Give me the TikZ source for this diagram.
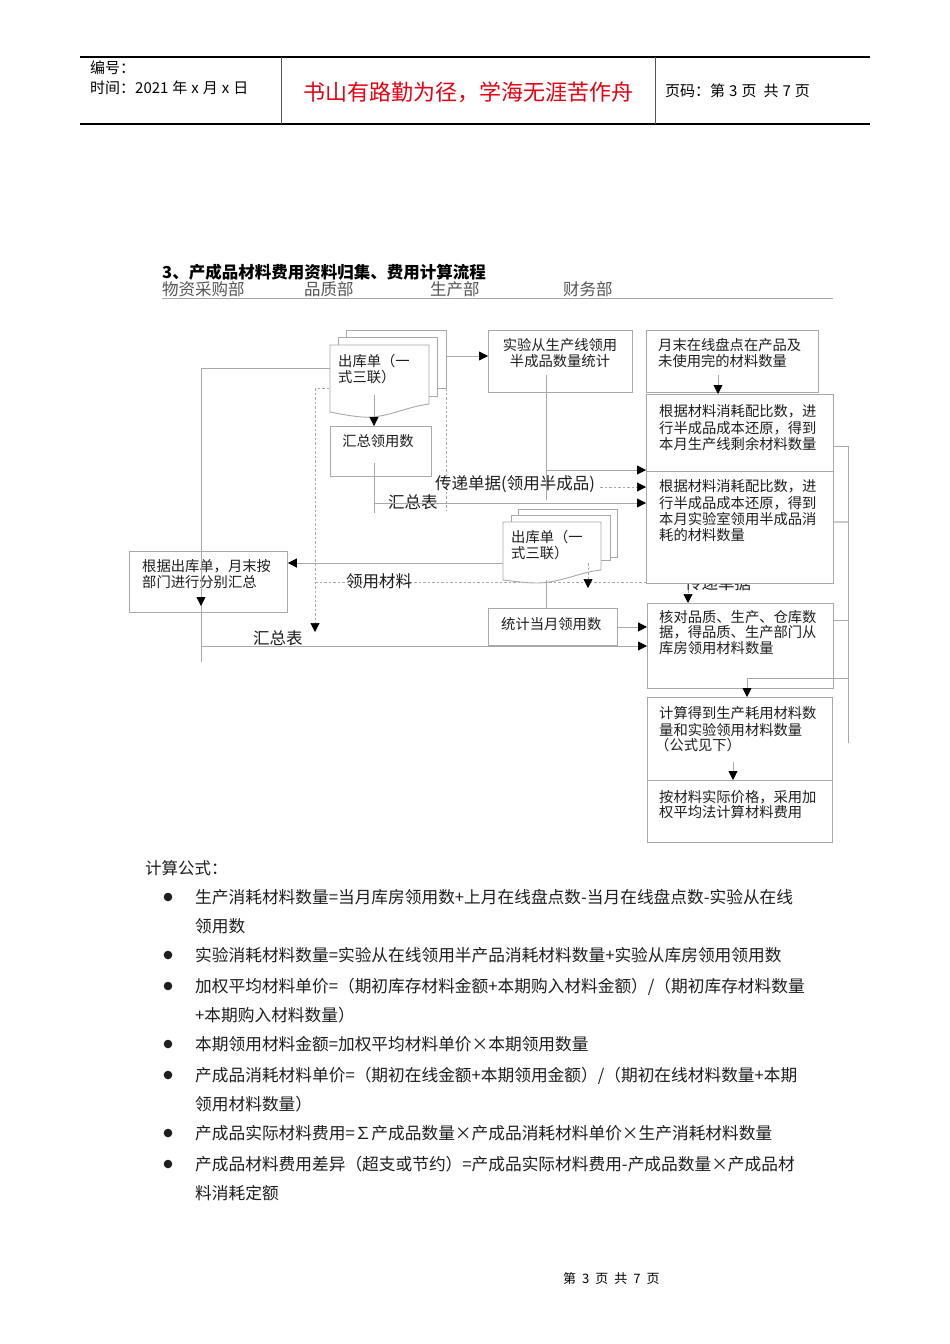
\documentclass[tikz,border=0pt]{standalone}
\usepackage{fontspec}
\setmainfont{Noto Sans CJK SC}
\usetikzlibrary{arrows.meta}
\definecolor{lgray}{HTML}{A8A8A8}
\definecolor{hgray}{HTML}{555555}
\definecolor{tblack}{HTML}{1E1E1E}
\definecolor{hred}{HTML}{E60012}
\newcommand\fsBox{\fontsize{14.3pt}{17pt}\selectfont}
\newcommand\fsLab{\fontsize{16.5pt}{19pt}\selectfont}
\newcommand\fsForm{\fontsize{16.7pt}{20pt}\selectfont}
\newcommand\fsHdr{\fontsize{15pt}{18pt}\selectfont}
\newcommand\gp{\hspace{4pt}}
\newcommand\gq{\hspace{7pt}}
\tikzset{
 ln/.style={draw=lgray, line width=0.8pt},
 dsh/.style={draw=lgray, line width=0.7pt, dash pattern=on 2.5pt off 2pt},
 arr/.style={-{Triangle[length=9pt,width=9pt,color=black]}},
 box/.style={draw=lgray, line width=0.9pt, fill=white, inner sep=0pt, anchor=north west},
 bt/.style={inner sep=0pt, anchor=base west, font=\fsBox, text=tblack},
 btc/.style={inner sep=0pt, anchor=base, font=\fsBox, text=tblack},
 lab/.style={inner sep=0pt, anchor=base west, font=\fsLab, text=tblack},
 ft/.style={inner sep=0pt, anchor=base west, font=\fsForm, text=tblack},
 hd/.style={inner sep=0pt, anchor=base west, font=\fsHdr, text=black},
 dept/.style={inner sep=0pt, anchor=base west, font=\fsLab, text=hgray},
 pg/.style={draw=lgray, line width=0.9pt, fill=white},
 bul/.style={fill=tblack},
}
\begin{document}
\begin{tikzpicture}[x=1pt,y=-1pt]
\useasboundingbox[fill=white] (0,0) rectangle (950,1344);

% ---------- header ----------
\draw[line width=1.2pt, black] (80,57) -- (870,57);
\draw[line width=1.2pt, black] (80,124) -- (870,124);
\draw[line width=1pt, hgray] (281,57) -- (281,124);
\draw[line width=1pt, hgray] (655,57) -- (655,124);
\node[hd] (hno) at (90,73.7) {编号：};
\node[hd] (htime) at (90,93.7) {时间：2021\gp 年\gp x\gp 月\gp x\gp 日};
\node[inner sep=0pt, anchor=base, font=\fontsize{22pt}{26pt}\selectfont, text=hred] (hmotto) at (468,100.4) {书山有路勤为径，学海无涯苦作舟};
\node[hd] (hpage) at (665,96.7) {页码：第\gp 3\gp 页\gq 共\gp 7\gp 页};

% ---------- title ----------
\node[inner sep=0pt, anchor=base west, font=\fontsize{16.5pt}{19pt}\selectfont\bfseries, text=black] (title) at (162,278) {3、产成品材料费用资料归集、费用计算流程};
\node[dept] (d1) at (162,295.5) {物资采购部};
\node[dept] (d2) at (304,295.5) {品质部};
\node[dept] (d3) at (430,295.5) {生产部};
\node[dept] (d4) at (563,295.5) {财务部};
\draw[ln] (162,298) -- (833,298);

% ---------- named points ----------
\coordinate (dq1) at (315,388);
\coordinate (dq2) at (446,388);
\coordinate (dq3) at (315,632);
\coordinate (dq4) at (446,510);
\coordinate (dl1) at (315,582);
\coordinate (dl2) at (646,582);

% ---------- dashed lines (behind) ----------
\draw[dsh] (dq2) -- (dq1);
\draw[dsh, arr] (dq1) -- (dq3);
\draw[dsh] (dq2) -- (dq4);
\draw[dsh] (dl1) -- (dl2);
\node[lab] (lbcd) at (685,589) {传递单据};

% ---------- documents 1 ----------
\draw[pg] (346,330) rectangle (446,388);
\draw[pg] (338,337) rectangle (437,396);
\draw[pg] (330,345) -- (429,345) -- (429,404) .. controls (405,407) and (385,419) .. (362,417) .. controls (350,416) and (340,414) .. (330,412) -- cycle;
\node[bt] (t1a) at (338,366.4) {出库单（一};
\node[bt] (t1b) at (338,382.4) {式三联）};
\coordinate (d1L) at (330,368);
\coordinate (d1R) at (446,356);
\coordinate (d1B) at (374,395);

% ---------- documents 2 ----------
\draw[pg] (518,509) rectangle (617,557);
\draw[pg] (511,515) rectangle (610,560);
\draw[pg] (503,522) -- (601,522) -- (601,570) .. controls (580,572) and (560,583) .. (537,583) .. controls (525,583) and (512,581) .. (503,580) -- cycle;
\node[bt] (t2a) at (511,542.4) {出库单（一};
\node[bt] (t2b) at (511,558.4) {式三联）};
\coordinate (d2L) at (503,563);
\coordinate (d2B) at (546,580);
\coordinate (d2D) at (588,563);

% ---------- boxes ----------
\node[box, minimum width=101pt, minimum height=50pt] (hz) at (330,426) {};
\node[btc] (thz) at (378,446.4) {汇总领用数};

\node[box, minimum width=144pt, minimum height=62pt] (sy) at (488,330) {};
\node[btc] (tsy1) at (560,350.4) {实验从生产线领用};
\node[btc] (tsy2) at (560,366.4) {半成品数量统计};

\node[box, minimum width=172pt, minimum height=62pt] (ym) at (646,330) {};
\node[bt] (tym1) at (658,350.4) {月末在线盘点在产品及};
\node[bt] (tym2) at (658,366.4) {未使用完的材料数量};

\node[box, minimum width=187pt, minimum height=77pt] (bA) at (646,394) {};
\node[bt] (tA1) at (659,416) {根据材料消耗配比数，进};
\node[bt] (tA2) at (659,433) {行半成品成本还原，得到};
\node[bt] (tA3) at (659,449) {本月生产线剩余材料数量};

\node[box, minimum width=187pt, minimum height=112pt] (bB) at (646,471) {};
\node[bt] (tB1) at (659,491.4) {根据材料消耗配比数，进};
\node[bt] (tB2) at (659,508.4) {行半成品成本还原，得到};
\node[bt] (tB3) at (659,524.4) {本月实验室领用半成品消};
\node[bt] (tB4) at (659,540.4) {耗的材料数量};

\node[box, minimum width=158pt, minimum height=61pt] (gj) at (129,551) {};
\node[bt] (tgj1) at (142,571.4) {根据出库单，月末按};
\node[bt] (tgj2) at (142,587.4) {部门进行分别汇总};

\node[box, minimum width=129pt, minimum height=37pt] (tj) at (488,608) {};
\node[bt] (ttj) at (501,629.4) {统计当月领用数};

\node[box, minimum width=186pt, minimum height=85pt] (hd) at (647,603) {};
\node[bt] (thd1) at (659,622.4) {核对品质、生产、仓库数};
\node[bt] (thd2) at (659,637.7) {据，得品质、生产部门从};
\node[bt] (thd3) at (659,653.7) {库房领用材料数量};

\node[box, minimum width=185pt, minimum height=83pt] (js) at (647,697) {};
\node[bt] (tjs1) at (659,718.4) {计算得到生产耗用材料数};
\node[bt] (tjs2) at (659,735.4) {量和实验领用材料数量};
\node[bt] (tjs3) at (655,750.4) {（公式见下）};

\node[box, minimum width=185pt, minimum height=62pt] (ac) at (647,780) {};
\node[bt] (tac1) at (659,802) {按材料实际价格，采用加};
\node[bt] (tac2) at (659,817) {权平均法计算材料费用};

% ---------- connector points ----------
\coordinate (c1) at (201,662);
\coordinate (g1) at (201,595);
\coordinate (g2) at (201,606);
\coordinate (h1) at (374,463);
\coordinate (h2) at (374,513);
\coordinate (h3) at (374,503);
\coordinate (s1) at (546,375);
\coordinate (s2) at (546,500);
\coordinate (s3) at (546,470);
\coordinate (td) at (600,487);
\coordinate (m1) at (718,375);
\coordinate (q1) at (688,590);
\coordinate (k1) at (747,678);
\coordinate (j1) at (733,762);
\coordinate (r1) at (848,446);
\coordinate (r2) at (848,743);
\coordinate (r3) at (848,522);
\coordinate (r4) at (848,620);
\coordinate (r5) at (848,678);
\coordinate (b1) at (201,646);

% ---------- labels ----------
\node[lab] (lbtd) at (435,489) {传递单据(领用半成品)};
\node[lab] (lbhz1) at (388,508) {汇总表};
\node[lab] (lbly) at (346,587) {领用材料};
\node[lab] (lbhz2) at (253,644) {汇总表};

% ---------- connectors ----------
\draw[ln, arr] (d1R) -- (d1R -| sy.west);
\draw[ln] (d1L) -| (c1);
\draw[ln, arr] (g1) -- (g2);
\draw[ln, arr] (d1B) -- (d1B |- hz.north);
\draw[ln] (h1) -- (h2);
\draw[ln, arr] (h3) -- (h3 -| bB.west);
\draw[ln] (s1) -- (s2);
\draw[ln, arr] (s3) -- (s3 -| bA.west);
\draw[dsh, arr] (td) -- (td -| bB.west);
\draw[dsh, arr] (d2D) -- ++(0,25);
\draw[dsh, arr] (q1) -- (q1 |- hd.north);
\draw[ln, arr] (d2L) -- (d2L -| gj.east);
\draw[ln] (d2B) -- (d2B |- tj.north);
\draw[ln, arr] (tj.east) -- (tj.east -| hd.west);
\draw[ln, arr] (b1) -- (b1 -| hd.west);
\draw[ln, arr] (m1) -- (m1 |- bA.north);
\draw[ln, arr] (k1) -- (k1 |- js.north);
\draw[ln, arr] (j1) -- (j1 |- ac.north);
\draw[ln] (r1) -- (r2);
\draw[ln] (r1 -| bA.east) -- (r1);
\draw[ln, line width=1.4pt, draw=lgray!60] (r3 -| bB.east) -- (r3);
\draw[ln] (r4 -| hd.east) -- (r4);
\draw[ln] (k1) -- (r5);

% ---------- formulas ----------
\node[inner sep=0pt, anchor=base west, font=\fsLab, text=tblack] (fhead) at (145,874.3) {计算公式：};
\foreach \yy in {897,955,986,1044,1075,1133,1164} { \fill[bul] (168,\yy) circle (4.3pt); }
\node[ft] (f1a) at (195,903.3) {生产消耗材料数量=当月库房领用数+上月在线盘点数-当月在线盘点数-实验从在线};
\node[ft] (f1b) at (195,932.3) {领用数};
\node[ft] (f2) at (195,961.3) {实验消耗材料数量=实验从在线领用半产品消耗材料数量+实验从库房领用领用数};
\node[ft] (f3a) at (195,992.3) {加权平均材料单价=（期初库存材料金额+本期购入材料金额）/（期初库存材料数量};
\node[ft] (f3b) at (195,1021.3) {+本期购入材料数量）};
\node[ft] (f4) at (195,1050.3) {本期领用材料金额=加权平均材料单价×本期领用数量};
\node[ft] (f5a) at (195,1081.3) {产成品消耗材料单价=（期初在线金额+本期领用金额）/（期初在线材料数量+本期};
\node[ft] (f5b) at (195,1110.3) {领用材料数量）};
\node[ft] (f6) at (195,1139.3) {产成品实际材料费用=∑产成品数量×产成品消耗材料单价×生产消耗材料数量};
\node[ft] (f7a) at (195,1170.3) {产成品材料费用差异（超支或节约）=产成品实际材料费用-产成品数量×产成品材};
\node[ft] (f7b) at (195,1199.3) {料消耗定额};

% ---------- footer ----------
\node[inner sep=0pt, anchor=base west, font=\fontsize{13pt}{16pt}\selectfont, text=black] (foot) at (563,1283) {第\hspace{6pt}3\hspace{6pt}页\hspace{6pt}共\hspace{6pt}7\hspace{6pt}页};
\end{tikzpicture}
\end{document}
